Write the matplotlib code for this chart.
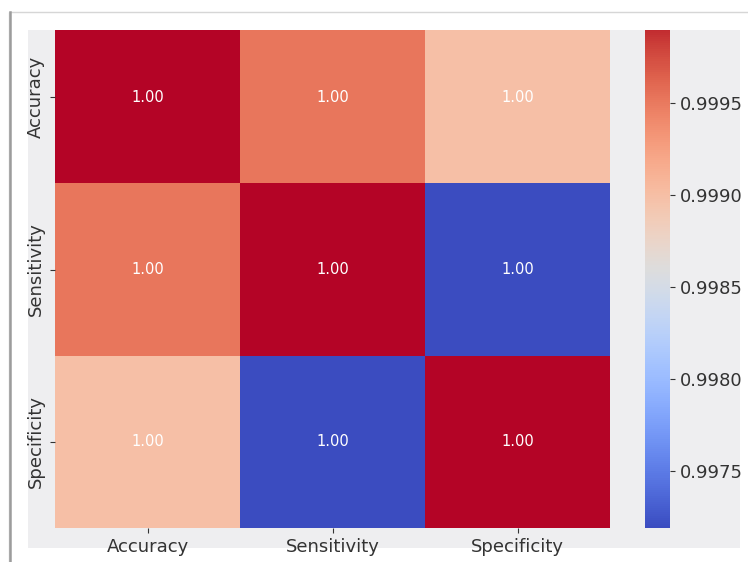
import numpy as np
import matplotlib
matplotlib.use("Agg")
import matplotlib.pyplot as plt
import seaborn as sns
from matplotlib.patches import Rectangle
from matplotlib.ticker import FormatStrFormatter

# ---- data ----
metrics = ["Accuracy", "Sensitivity", "Specificity"]
acc_row = [1.0, 0.99952, 0.99900]
sens_row = [0.99952, 1.0, 0.99719]
spec_row = [0.99900, 0.99719, 1.0]
cbar_ticks = [0.9975, 0.9980, 0.9985, 0.9990, 0.9995]

W, H = 748, 562
TXT = "#333333"


def box(x0, y0, x1, y1):
    """pixel box (top-left origin) -> figure fraction [l, b, w, h]"""
    return [x0 / W, 1 - y1 / H, (x1 - x0) / W, (y1 - y0) / H]


fig = plt.figure(figsize=(W / 100, H / 100), dpi=100, facecolor="white")

# light grey background of the pasted chart image
l, b, w, h = box(28, 30, 740, 548)
fig.patches.append(Rectangle((l, b), w, h, transform=fig.transFigure,
                             facecolor="#eeeef0", edgecolor="none", zorder=-1))

ax = fig.add_axes(box(55, 11, 610, 528))
cax = fig.add_axes(box(645, 11, 670, 528))

corr = np.array([acc_row, sens_row, spec_row])
sns.heatmap(corr, annot=True, fmt=".2f", cmap="coolwarm",
            xticklabels=metrics, yticklabels=metrics,
            ax=ax, cbar_ax=cax,
            annot_kws={"color": "white", "fontsize": 10.5})

ax.tick_params(axis="both", labelsize=13, colors=TXT, length=3.5)
ax.set_yticklabels(metrics, rotation=90, va="center")

cbar = ax.collections[0].colorbar
cbar.set_ticks(cbar_ticks)
cbar.ax.yaxis.set_major_formatter(FormatStrFormatter("%.4f"))
cbar.ax.tick_params(labelsize=13, colors=TXT, length=3.5)

# the screenshot crops the top of the chart
l, b, w, h = box(0, 0, W, 30)
fig.patches.append(Rectangle((l, b), w, h, transform=fig.transFigure,
                             facecolor="white", edgecolor="none", zorder=5))

# page frame with a soft shadow on the left
l, b, w, h = box(9, 12, W + 20, H + 20)
fig.patches.append(Rectangle((l, b), w, h, transform=fig.transFigure,
                             facecolor="none", edgecolor="#d6d6d6",
                             linewidth=1.0, zorder=6))
fig.add_artist(plt.Line2D([10 / W, 10 / W], [0, 1 - 12 / H],
                          transform=fig.transFigure, color="#9c9c9c",
                          linewidth=1.8, zorder=7))

fig.savefig("out.png", dpi=100)
plt.close(fig)
